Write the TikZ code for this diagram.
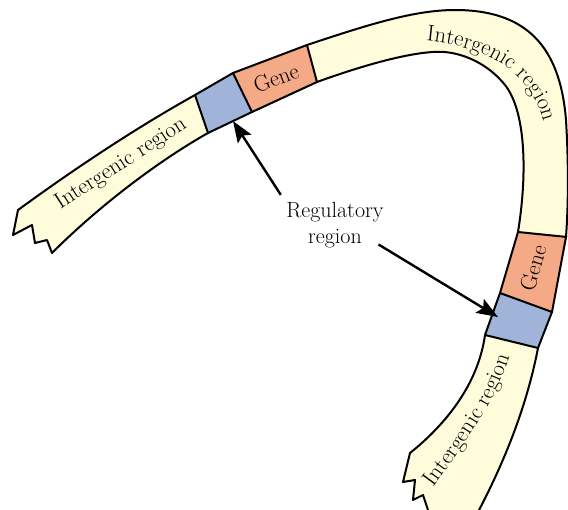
\documentclass[tikz,border=0pt]{standalone}
\usepackage{tikz}
\usetikzlibrary{arrows.meta, decorations.text}
\definecolor{cream}{HTML}{FFFCDC}
\definecolor{genecol}{HTML}{F5AA87}
\definecolor{regcol}{HTML}{A0B4DA}
\newcommand{\ribfont}{\fontsize{17}{19}\selectfont}
\begin{document}
\begin{tikzpicture}[
      x=0.75pt, y=-0.75pt,
      edge/.style={line width=1.5pt, line join=round},
      lbl/.style={font=\ribfont, inner sep=0pt},
      arr/.style={-{Stealth[length=16pt, width=12pt, inset=3pt]}, line width=1.8pt}
    ]
    \useasboundingbox (0,0) rectangle (568,510);
    \clip (0,0) rectangle (568,510);
    \def\ribbon{(18,210) .. controls (77,167) and (136,128) .. (195,95) -- (233,73) -- (307,45)
      .. controls (370,24) and (415,10) .. (455,10) .. controls (525,10) and (560,45) .. (566,120)
      .. controls (569,170) and (568,210) .. (566,237) -- (552,312) -- (538,348)
      .. controls (528,400) and (508,455) .. (478,512) -- (478,520)
      -- (433,520) -- (428,510) -- (423,495) -- (413,500) -- (415,480) -- (403,482) -- (410,453)
      .. controls (445,425) and (478,385) .. (485,335) -- (500,293) -- (518,232)
      .. controls (528,170) and (525,110) .. (505,85) .. controls (485,60) and (455,50) .. (433,52)
      .. controls (400,54) and (350,70) .. (317,82) -- (252,112) -- (208,133)
      .. controls (160,160) and (100,205) .. (52,253)
      -- (47,240) -- (35,243) -- (32,225) -- (13,235) -- cycle}
    \fill[cream] \ribbon;
    \fill[regcol] (195,95) -- (233,73) -- (252,112) -- (208,133) -- cycle;
    \fill[genecol] (233,73) -- (307,45) -- (317,82) -- (252,112) -- cycle;
    \fill[genecol] (518,232) -- (567,237) -- (552,312) -- (500,293) -- cycle;
    \fill[regcol] (500,293) -- (552,312) -- (538,348) -- (485,335) -- cycle;
    \draw[edge] \ribbon;
    \draw[edge] (195,95) -- (208,133) (233,73) -- (252,112) (307,45) -- (317,82);
    \draw[edge] (518,232) -- (567,237) (500,293) -- (552,312) (485,335) -- (538,348);

    \node[lbl, rotate=33] (igl) at (121,164) {Intergenic region};
    \node[lbl, rotate=21] (genea) at (276,78) {Gene};
    \node[lbl, rotate=74] (geneb) at (533,268) {Gene};
    \path[decorate, decoration={text along path, text align=center,
        text={|\ribfont|Intergenic region}}]
      (410,40) .. controls (480,42) and (540,70) .. (546,138);
    \path[decorate, decoration={text along path, text align=center,
        text={|\ribfont|Intergenic region}}]
      (428,495) .. controls (465,445) and (500,395) .. (512,348);

    \node[font=\fontsize{16.5}{20}\selectfont, align=center, inner sep=0pt] (reg) at (335,225) {Regulatory\\region};
    \coordinate (tipa) at (233,121);
    \coordinate (tipb) at (498,317);
    \draw[arr] ([shift={(-4pt,5pt)}]reg.north west) -- (tipa);
    \draw[arr] ([shift={(-4pt,3pt)}]reg.south east) -- (tipb);
  \end{tikzpicture}
\end{document}
